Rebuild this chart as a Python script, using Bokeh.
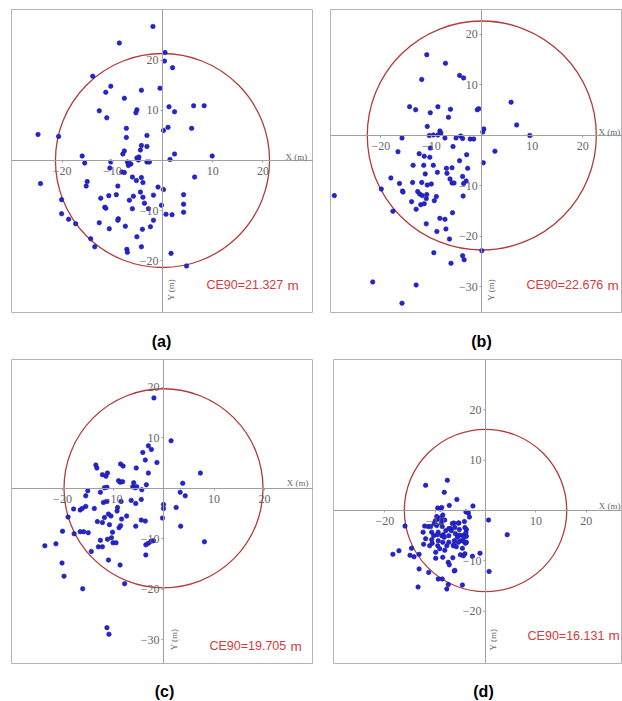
from bokeh.plotting import figure
from bokeh.layouts import column, row
from bokeh.models import FixedTicker, Label, Range1d
from bokeh.core.properties import value
from bokeh.embed import file_html
from bokeh.resources import INLINE

# ---------------- data ----------------
CE90_A = 21.327
CE90_B = 22.676
CE90_C = 19.705
CE90_D = 16.131

X_TICKS = [-20, -10, 10, 20]
Y_TICKS_A = [-20, -10, 10, 20]
Y_TICKS_B = [-30, -20, -10, 10, 20]
Y_TICKS_C = [-30, -20, -10, 10, 20]
Y_TICKS_D = [-20, -10, 10, 20]

PANEL_LABELS = ["(a)", "(b)", "(c)", "(d)"]

A_X = [-1.9, -8.6, 0.5, 0.4, 2.0, -13.9, -10.3, -11.3, -4.2, -0.5, -7.6, -12.6, -11.1, -5.1, -5.3,
       1.3, 2.4, 6.2, 8.3, 5.8, 1.1, 0.2, -7.2, -7.2, -3.1, -24.8, -20.7, -4.2, -3.1, -7.6, -7.9,
       -4.4, -4.7, -5.1, -3.1, -2.6, -7.0, -6.3, -6.8, -16.0, -15.5, -10.3, -10.5, -8.1, -7.6, 2.4,
       1.5, 9.9, 6.4, -24.3, -15.0, -15.2, -6.0, -5.2, -4.2, -3.9, -8.9, -0.9, 0.2, -20.1, -12.3,
       -10.7, -9.2, -5.8, -6.6, -4.4, -3.9, -3.6, -1.8, 4.2, 4.2, 4.2, -11.5, -11.3, -6.0, -2.8,
       -0.2, 0.7, 1.9, -20.1, -18.7, -17.3, -12.6, -8.8, -8.9, -1.8, -2.4, -10.6, -7.4, -4.0, -5.1,
       -14.3, -13.5, -4.2, -7.1, -7.0, 1.7, 4.8, -6.7, -4.8]
A_Y = [26.7, 23.4, 21.5, 19.8, 18.5, 16.8, 14.8, 13.6, 14.0, 14.4, 12.4, 9.9, 8.5, 10.1, 9.5, 10.7,
       9.7, 10.9, 10.9, 6.4, 6.6, 6.0, 6.4, 4.6, 5.0, 5.2, 4.8, 3.0, 2.8, 1.9, 1.3, 2.1, 0.7, 0.5,
       -0.3, -0.3, -0.3, -0.7, -1.0, 0.9, -0.5, -0.3, -1.5, -2.3, -2.4, 1.3, 0.2, 0.9, -3.3, -4.6,
       -4.2, -5.1, -3.3, -4.0, -3.4, -4.4, -5.1, -5.3, -5.8, -7.8, -7.5, -7.0, -6.8, -7.1, -7.9,
       -6.3, -7.3, -8.5, -6.9, -6.8, -8.7, -10.3, -9.3, -9.5, -9.6, -9.6, -8.9, -10.7, -10.8,
       -10.6, -11.7, -12.6, -12.4, -11.6, -11.9, -11.9, -13.2, -13.6, -13.1, -13.7, -15.2, -15.6,
       -17.2, -17.2, -17.7, -18.3, -18.5, -21.0, -0.5, 0.1]

B_X = [-10.9, -7.2, -11.9, -4.4, -3.6, 5.8, -14.3, -13.1, -8.7, -10.2, -6.2, -6.6, -0.9, -0.6, 6.9,
       9.5, 0.4, 0.2, -10.8, -8.3, -8.1, -10.4, -9.6, -8.7, -7.3, -5.1, -4.2, -3.8, -2.3, -1.6,
       -15.8, -16.6, -10.2, -5.7, 2.6, -12.4, -11.4, -10.3, -3.0, -4.4, 0.3, -13.6, -11.5, -9.6,
       -8.8, -7.0, -6.9, -5.9, -2.8, -11.2, -3.8, -3.1, -18.0, -16.3, -13.7, -11.9, -10.8, -10.0,
       -6.3, -5.9, -5.5, -3.6, -29.2, -19.9, -15.7, -15.6, -12.7, -12.3, -11.8, -10.9, -11.0, -9.0,
       -9.4, -3.7, -13.9, -12.1, -11.4, -13.0, -17.6, -5.8, -8.3, -7.3, -11.0, -8.9, -7.1, -6.4,
       -9.5, 0.0, -6.1, -3.8, -3.5, -21.6, -13.0, -15.8]
B_Y = [16.0, 14.3, 11.1, 11.9, 11.4, 6.6, 5.7, 5.1, 5.7, 4.5, 5.2, 3.6, 5.1, 5.3, 2.1, 0.0, 1.3, 0.7,
       1.8, 0.9, 0.5, 0.0, 0.1, 0.1, -0.5, -0.5, -0.1, -0.6, -0.7, -0.7, -0.5, -3.2, -2.5, -2.2,
       -3.1, -3.6, -4.1, -4.3, -3.8, -5.0, -5.4, -5.9, -5.9, -5.9, -7.3, -6.5, -7.5, -6.4, -6.5,
       -7.6, -8.1, -9.0, -8.4, -9.5, -9.3, -9.3, -9.8, -9.6, -8.6, -9.4, -9.4, -9.5, -11.9, -10.6,
       -11.0, -11.2, -11.1, -11.6, -11.9, -11.7, -12.5, -12.1, -12.9, -12.0, -13.1, -13.7, -13.5,
       -14.6, -15.0, -15.3, -16.4, -16.6, -17.5, -19.0, -18.5, -20.5, -23.2, -22.8, -25.3, -23.8,
       -24.6, -29.0, -29.6, -33.2]

C_X = [-1.9, 1.5, -3.0, -2.4, -4.1, -3.6, -1.3, -13.4, -13.2, -8.5, -8.0, -5.4, 7.3, -12.1, -11.1,
       -3.0, -11.4, -8.9, -8.6, -8.1, -5.9, -6.1, -5.6, -3.4, 3.8, 3.3, 4.3, -15.0, -15.4, -12.5,
       -11.7, -11.2, -4.3, -17.8, -16.5, -16.1, -15.4, -13.7, -11.9, -11.2, -8.4, -6.4, -5.5, -4.4,
       -9.1, -9.2, -7.3, -8.3, -11.7, -10.9, -10.4, -13.1, -12.1, -10.7, -8.8, -8.5, -5.5, -4.4,
       -3.6, 0.0, 0.0, 2.5, -0.2, 3.4, -18.9, -20.0, -17.7, -16.5, -15.8, -14.9, -10.1, -10.3,
       -12.5, -11.1, -10.0, -9.4, -3.5, -3.0, -2.5, -2.0, 8.1, -23.5, -21.3, -14.3, -12.9, -12.1,
       -3.5, -10.9, -20.1, -19.7, -8.6, -7.7, -16.0, -11.2, -10.8, -5.3]
C_Y = [17.9, 9.4, 8.4, 7.7, 7.1, 5.6, 5.1, 4.6, 4.0, 4.8, 4.4, 4.0, 3.0, 2.7, 3.0, 3.0, 2.4, 1.5, 1.2,
       1.3, 1.1, 0.3, 0.1, 0.7, 1.0, -0.8, -1.5, -0.5, -1.5, -0.8, 0.1, 0.2, -0.3, -4.1, -4.3, -4.0,
       -3.6, -4.0, -2.8, -2.6, -2.6, -2.4, -3.0, -2.2, -3.8, -4.5, -5.5, -6.1, -5.8, -5.1, -5.5,
       -6.6, -6.8, -7.2, -7.8, -7.4, -7.5, -6.3, -6.5, -3.2, -4.0, -3.8, -5.9, -7.5, -5.7, -8.5,
       -9.0, -8.6, -8.6, -8.8, -8.7, -9.8, -10.3, -10.1, -10.8, -10.8, -11.2, -10.9, -10.5, -10.4,
       -10.6, -11.4, -11.0, -12.5, -11.6, -11.6, -13.2, -14.2, -14.8, -17.4, -15.2, -18.9, -19.9,
       -27.6, -28.9, 0.3]

D_X = [-7.6, -11.9, -8.2, -5.7, -7.2, -2.5, -9.5, -9.0, -8.7, -3.9, -3.4, -3.2, 0.6, 4.3, -9.4, -8.6,
       -8.1, -10.0, -6.3, -5.3, -4.2, -12.1, -11.4, -10.9, -16.0, -9.7, -8.6, -7.0, -4.1, -3.8, -5.2,
       -12.4, -10.7, -9.4, -8.4, -7.3, -6.0, -5.2, -4.5, -3.8, -11.9, -10.7, -9.4, -8.5, -7.3, -6.2,
       -4.9, -4.4, -12.3, -11.1, -9.5, -6.4, -4.6, -14.7, -17.2, -18.4, -15.0, -13.2, -9.9, -8.1,
       -5.0, -4.4, -2.6, -1.1, -9.9, -6.5, -7.4, -7.2, -6.2, -13.2, -11.3, 0.7, -9.4, -8.6, -7.4,
       -7.7, -13.4, -4.6, -8.8, -8.2, -6.8, -7.9, -5.4, -10.3, -9.1, -4.1, -4.0, -5.8,
       -9.6, -8.7, -5.6, -4.3, -3.8, -10.6, -7.7, -6.3, -8.5, -14.2, -6.1, -6.6, -5.4, -7.3, -6.1,
       -3.9, -9.7, -9.0, -8.5, -10.2]
D_Y = [6.0, 5.0, 3.6, 2.2, 1.0, 0.9, 0.5, 0.3, 0.6, -0.3, -0.5, -1.3, -1.9, -4.8, -1.7, -1.8, -1.9,
       -2.1, -2.5, -2.5, -2.2, -3.1, -3.2, -3.2, -3.1, -3.0, -3.2, -3.6, -3.4, -3.8, -3.8, -4.3,
       -4.3, -4.3, -4.8, -5.0, -4.6, -4.9, -4.9, -5.1, -5.6, -5.8, -6.0, -6.3, -6.3, -6.0, -6.0,
       -6.1, -6.7, -7.0, -7.0, -7.0, -7.5, -7.5, -8.0, -8.7, -8.9, -8.7, -8.3, -7.9, -8.8, -9.0,
       -9.1, -8.5, -9.5, -9.4, -10.3, -10.8, -12.0, -11.6, -12.3, -12.1, -13.6, -13.6, -14.7,
       -15.6, -15.2, -14.8, -2.5, -5.3, -4.0, -4.0, -6.3, -5.0, -7.6, -8.6, -6.5, -7.2,
       -4.8, -5.0, -5.3, -5.3, -6.3, -6.5, -7.0, -6.8, -9.3, -9.2, -11.9, -2.6, -2.5, -3.6, -3.4,
       -4.4, -1.2, -1.5, -0.9, -2.6]

# ---------------- styling ----------------
POINT_COLOR = "#2424d4"
POINT_EDGE = "#18189a"
CIRCLE_COLOR = "#b23c3c"
CE_COLOR = "#d23c3c"
AXIS_COLOR = "#a0a0a0"
BORDER_COLOR = "#b4b4b4"
TICK_COLOR = "#666666"
TICK_FONT = "Liberation Serif"
SANS = "Liberation Sans"


def make_panel(xs, ys, ce, yticks, xr, yr, w, h, left, top,
               ce_pos, xlab_pos, ylab_pos):
    p = figure(width=w, height=h, x_range=Range1d(*xr), y_range=Range1d(*yr),
               output_backend="svg", toolbar_location=None,
               min_border_left=left, min_border_right=0,
               min_border_top=top, min_border_bottom=1,
               background_fill_color="white", border_fill_color="white",
               outline_line_color=BORDER_COLOR, outline_line_width=1)
    p.title.visible = False
    p.grid.visible = False
    for ax in (p.xaxis[0], p.yaxis[0]):
        ax.fixed_location = 0
        ax.axis_line_color = AXIS_COLOR
        ax.axis_line_width = 1
        ax.major_tick_line_color = AXIS_COLOR
        ax.major_tick_in = 0
        ax.major_tick_out = 2
        ax.minor_tick_line_color = None
        ax.major_label_text_font = TICK_FONT
        ax.major_label_text_font_size = "12px"
        ax.major_label_text_color = TICK_COLOR
    p.xaxis.ticker = FixedTicker(ticks=X_TICKS)
    p.yaxis.ticker = FixedTicker(ticks=yticks)
    p.xaxis.major_label_standoff = 5
    p.yaxis.major_label_standoff = 2

    p.ellipse(x=0, y=0, width=2 * ce, height=2 * ce, fill_color=None,
              line_color=CIRCLE_COLOR, line_width=1.3)
    p.scatter(xs, ys, size=4.5, fill_color=POINT_COLOR, line_color=POINT_EDGE, line_width=0.6)

    cx, cy = ce_pos
    p.add_layout(Label(x=cx, y=cy, text="CE90=%.3f" % ce, text_font=SANS,
                       text_font_size="12.5px", text_color=CE_COLOR,
                       text_align="left", text_baseline="alphabetic"))
    p.add_layout(Label(x=cx, y=cy, x_offset=81, text="m", text_font=SANS,
                       text_font_size="13.5px", text_color=CE_COLOR,
                       text_align="left", text_baseline="alphabetic"))
    p.add_layout(Label(x=xlab_pos[0], y=xlab_pos[1], text="X (m)", text_font=TICK_FONT,
                       text_font_size="9px", text_color=TICK_COLOR,
                       text_align="left", text_baseline="alphabetic"))
    p.add_layout(Label(x=ylab_pos[0], y=ylab_pos[1], text="Y (m)", text_font=TICK_FONT,
                       text_font_size="9px", text_color=TICK_COLOR, angle=90, angle_units="deg",
                       text_align="left", text_baseline="middle"))
    return p


def letter_strip(labels, xs, y, h):
    s = figure(width=622, height=h, x_range=Range1d(0, 622), y_range=Range1d(0, h),
               output_backend="svg", toolbar_location=None,
               x_axis_type=None, y_axis_type=None,
               min_border_left=0, min_border_right=0, min_border_top=0, min_border_bottom=0,
               background_fill_color="white", border_fill_color="white",
               outline_line_color=None)
    s.title.visible = False
    s.grid.visible = False
    s.text(x=xs, y=[y] * len(labels), text=labels, text_font=value(SANS),
           text_font_size=value("16px"), text_font_style="bold", text_color="black",
           text_align="center", text_baseline="middle")
    return s


pa = make_panel(A_X, A_Y, CE90_A, Y_TICKS_A,
                (-30.08, 30.08), (-30.28, 30.08), 313, 313, 11, 9,
                (8.76, -24.9), (24.5, 0.7), (1.6, -27.9))
pb = make_panel(B_X, B_Y, CE90_B, Y_TICKS_B,
                (-29.96, 27.86), (-35.05, 24.95), 309, 313, 17, 9,
                (8.85, -29.7), (23.1, 0.7), (1.9, -32.7))
pc = make_panel(C_X, C_Y, CE90_C, Y_TICKS_C,
                (-30.1, 29.7), (-34.7, 25.5), 313, 314, 11, 9,
                (9.1, -31.3), (24.4, 1.0), (2.0, -32.1))
pd = make_panel(D_X, D_Y, CE90_D, Y_TICKS_D,
                (-30.2, 27.2), (-30.4, 30.0), 309, 314, 20, 9,
                (8.35, -24.85), (22.5, 0.8), (1.5, -27.8))

strip_top = letter_strip(PANEL_LABELS[:2], [161, 481], 9, 37)
strip_bottom = letter_strip(PANEL_LABELS[2:], [164, 483], 10, 37)

layout = column(row(pa, pb), strip_top, row(pc, pd), strip_bottom)

with open("out.html", "w") as f:
    f.write(file_html(layout, INLINE))
